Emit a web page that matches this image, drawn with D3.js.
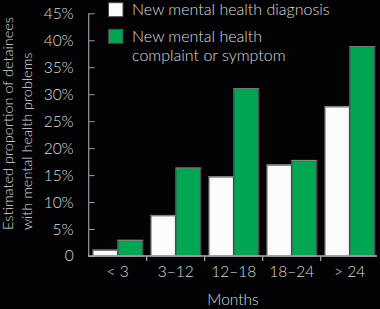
<!DOCTYPE html>
<html>
<head>
<meta charset="utf-8">
<script src="https://cdn.jsdelivr.net/npm/d3@7"></script>
<style>
  html, body { margin: 0; padding: 0; background: #030306; }
  svg { display: block; }
  text { font-family: Lato, "Open Sans", sans-serif; font-weight: 300; fill: #dcdcdc; }
</style>
</head>
<body>
<svg id="chart" width="380" height="309"></svg>
<script>
// Time in custody, months
const categories = ["< 3", "3\u201312", "12\u201318", "18\u201324", "> 24"];
const seriesNames = ["New mental health diagnosis", "New mental health complaint or symptom"];
// Estimated proportion (%) of detainees
const diagnosis = [1.1, 7.5, 14.7, 16.9, 27.7];
const complaint = [2.9, 16.3, 31.0, 17.7, 38.8];
const yTicks = [0, 5, 10, 15, 20, 25, 30, 35, 40, 45];

const colors = ["#fbfbfb", "#00a651"];
const svg = d3.select("#chart");

const x = d3.scaleBand().domain(categories).range([88.7, 378.7]);
const xs = d3.scaleBand().domain([0, 1]).range([4, x.bandwidth() - 4]);
const y = d3.scaleLinear().domain([0, 45]).range([256, 13.3]);

const rows = categories.map((c, i) => ({ c, v: [diagnosis[i], complaint[i]] }));

// Bars
const groups = svg.append("g").selectAll("g").data(rows).join("g")
  .attr("transform", d => `translate(${x(d.c)},0)`);
groups.selectAll("rect").data(d => d.v.map((v, k) => ({ v, k }))).join("rect")
  .attr("x", d => xs(d.k))
  .attr("y", d => y(d.v))
  .attr("width", xs.bandwidth())
  .attr("height", d => y(0) - y(d.v))
  .attr("fill", d => colors[d.k])
  .attr("stroke", "#4a4a4a")
  .attr("stroke-width", 1.5);
// lighter top edge
groups.selectAll("line.top").data(d => d.v.map((v, k) => ({ v, k }))).join("line")
  .attr("class", "top")
  .attr("x1", d => xs(d.k)).attr("x2", d => xs(d.k) + xs.bandwidth())
  .attr("y1", d => y(d.v)).attr("y2", d => y(d.v))
  .attr("stroke", "#8a8a8a").attr("stroke-width", 1);

// Y axis with inward ticks
const yAxis = d3.axisLeft(y).tickValues(yTicks).tickSize(-6).tickPadding(15)
  .tickFormat(d => d === 0 ? "0" : d + "%");
const gy = svg.append("g").attr("transform", "translate(88.7,0)").call(yAxis);
gy.select(".domain").attr("stroke", "#9a9a9a").attr("stroke-width", 1.2)
  .attr("d", `M0,${y(45)}V${y(0)}`);
gy.selectAll(".tick line").attr("stroke", "#9a9a9a");
gy.selectAll(".tick text").style("font-size", "15.5px").attr("fill", "#dcdcdc")
  .style("font-family", "Lato, sans-serif").style("font-weight", 300);

// X axis: baseline with separators between categories
const gx = svg.append("g");
gx.append("line").attr("x1", 88).attr("x2", 377).attr("y1", y(0)).attr("y2", y(0))
  .attr("stroke", "#b0b0b0").attr("stroke-width", 1.5);
gx.selectAll("line.sep").data(categories.slice(1)).join("line").attr("class", "sep")
  .attr("x1", d => x(d)).attr("x2", d => x(d))
  .attr("y1", y(0)).attr("y2", y(0) + 5)
  .attr("stroke", "#b0b0b0").attr("stroke-width", 1.2);
gx.selectAll("text").data(categories).join("text")
  .attr("x", d => x(d) + x.bandwidth() / 2)
  .attr("y", 277)
  .attr("text-anchor", "middle")
  .style("font-size", "15.5px")
  .text(d => d);
svg.append("text").attr("x", 233).attr("y", 305).attr("text-anchor", "middle")
  .style("font-size", "15.5px").text("Months");

// Y axis title
const yt = svg.append("text").attr("transform", "translate(0,230) rotate(-90)")
  .style("font-size", "14.5px");
yt.append("tspan").attr("x", 0).attr("y", 13).text("Estimated proportion of detainees");
yt.append("tspan").attr("x", 0).attr("y", 32).text("with mental health problems");

// Legend
const legend = svg.append("g");
const legendLines = [["New mental health diagnosis"], ["New mental health", "complaint or symptom"]];
seriesNames.forEach((name, k) => {
  const top = k === 0 ? 2.7 : 29.3;
  legend.append("rect").attr("x", 108.5).attr("y", top).attr("width", 14.5).attr("height", 14)
    .attr("fill", colors[k]).attr("stroke", "#4a4a4a").attr("stroke-width", 1);
  const t = legend.append("text").attr("x", 132).attr("y", top + 12.5).style("font-size", "16px");
  legendLines[k].forEach((line, j) => {
    t.append("tspan").attr("x", 132).attr("dy", j === 0 ? 0 : 19.5).text(line);
  });
});
</script>
</body>
</html>
